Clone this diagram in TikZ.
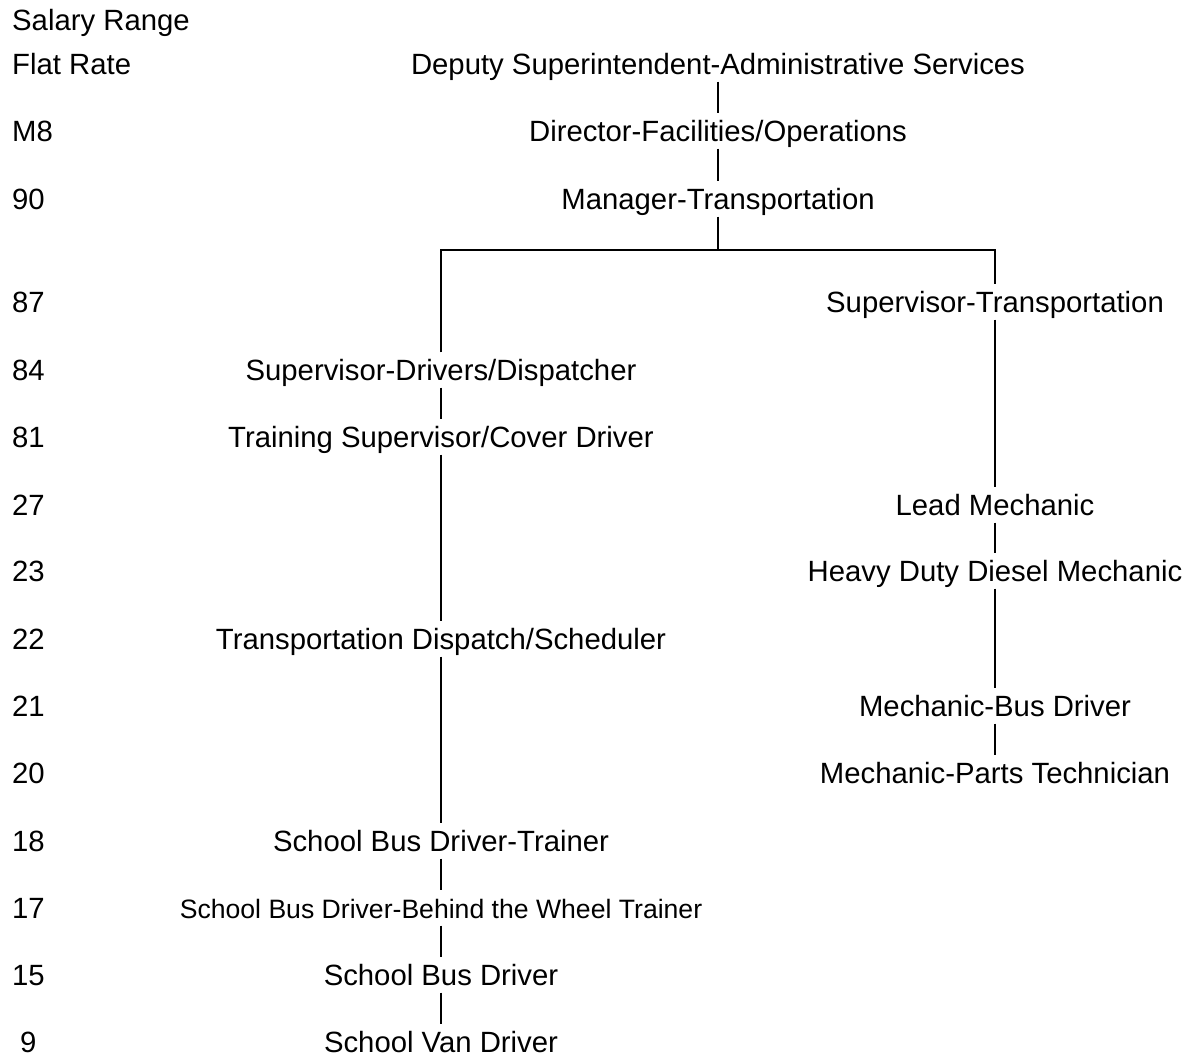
\documentclass[tikz,border=0pt]{standalone}
\usepackage{fontspec}
\setmainfont{Liberation Sans}
\begin{document}
\begin{tikzpicture}[x=1pt,y=-1pt,
  lbl/.style={inner xsep=0pt, inner ysep=7pt, text height=21pt, text depth=0pt,
              font=\fontsize{29.3}{35}\selectfont, anchor=center},
  smalllbl/.style={lbl, font=\fontsize{26.6}{32}\selectfont},
  num/.style={lbl, anchor=west},
  conn/.style={line width=2pt}]
\useasboundingbox (0,0) rectangle (1190,1057);
% salary column
\node[num] (h1) at (12,20) {Salary Range};
\node[num] (h2) at (12,64) {Flat Rate};
\node[num] (nM8) at (12,131) {M8};
\node[num] (n90) at (12,199) {90};
\node[num] (n87) at (12,302) {87};
\node[num] (n84) at (12,370) {84};
\node[num] (n81) at (12,437) {81};
\node[num] (n27) at (12,505) {27};
\node[num] (n23) at (12,571) {23};
\node[num] (n22) at (12,639) {22};
\node[num] (n21) at (12,706) {21};
\node[num] (n20) at (12,773) {20};
\node[num] (n18) at (12,841) {18};
\node[num] (n17) at (12,908) {17};
\node[num] (n15) at (12,975) {15};
\node[num] (n9) at (20,1042) {9};
% positions
\node[lbl] (dep) at (718,64) {Deputy Superintendent-Administrative Services};
\node[lbl] (dir) at (718,131) {Director-Facilities/Operations};
\node[lbl] (mgr) at (718,199) {Manager-Transportation};
\node[lbl] (st) at (995,302) {Supervisor-Transportation};
\node[lbl] (sd) at (441,370) {Supervisor-Drivers/Dispatcher};
\node[lbl] (ts) at (441,437) {Training Supervisor/Cover Driver};
\node[lbl] (lm) at (995,505) {Lead Mechanic};
\node[lbl] (hd) at (995,571) {Heavy Duty Diesel Mechanic};
\node[lbl] (tds) at (441,639) {Transportation Dispatch/Scheduler};
\node[lbl] (mbd) at (995,706) {Mechanic-Bus Driver};
\node[lbl] (mpt) at (995,773) {Mechanic-Parts Technician};
\node[lbl] (sbt) at (441,841) {School Bus Driver-Trainer};
\node[smalllbl] (btw) at (441,908) {School Bus Driver-Behind the Wheel Trainer};
\node[lbl] (sbd) at (441,975) {School Bus Driver};
\node[lbl] (svd) at (441,1042) {School Van Driver};
% connectors
\coordinate (barL) at (441,250);
\coordinate (barR) at (995,250);
\draw[conn] (dep.south) -- (dir.north);
\draw[conn] (dir.south) -- (mgr.north);
\draw[conn] (mgr.south) -- (mgr.south |- barL);
\draw[conn] (sd.north) -- (barL) -- (barR) -- (st.north);
\draw[conn] (sd.south) -- (ts.north);
\draw[conn] (ts.south) -- (tds.north);
\draw[conn] (tds.south) -- (sbt.north);
\draw[conn] (sbt.south) -- (btw.north);
\draw[conn] (btw.south) -- (sbd.north);
\draw[conn] (sbd.south) -- (svd.north);
\draw[conn] (st.south) -- (lm.north);
\draw[conn] (lm.south) -- (hd.north);
\draw[conn] (hd.south) -- (mbd.north);
\draw[conn] (mbd.south) -- (mpt.north);
\end{tikzpicture}
\end{document}
